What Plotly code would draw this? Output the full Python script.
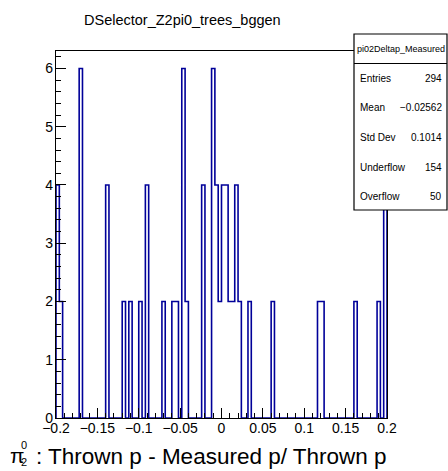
import plotly.graph_objects as go

# Histogram definition: pi02Deltap_Measured, 100 bins on [-0.2, 0.2]
x_min, x_max, n_bins = -0.2, 0.2, 100
counts = [
    4, 2, 0, 0, 0, 0, 0, 6, 0, 0,
    0, 0, 0, 0, 0, 4, 0, 0, 0, 0,
    2, 0, 2, 0, 0, 2, 0, 4, 0, 0,
    0, 0, 2, 0, 0, 2, 2, 0, 6, 2,
    0, 0, 0, 0, 4, 0, 0, 6, 4, 2,
    4, 4, 2, 2, 4, 2, 0, 0, 2, 0,
    0, 0, 0, 0, 0, 2, 0, 0, 0, 0,
    0, 0, 0, 0, 0, 0, 0, 0, 0, 2,
    2, 0, 0, 0, 0, 0, 0, 0, 0, 0,
    2, 0, 0, 0, 0, 0, 0, 2, 0, 4,
]

title_text = "DSelector_Z2pi0_trees_bggen"
stats_name = "pi02Deltap_Measured"
stats_labels = ["Entries", "Mean", "Std Dev", "Underflow", "Overflow"]
stats_values = ["294", "\u22120.02562", "0.1014", "154", "50"]

width = x_max - x_min
edges = [x_min + width * i / n_bins for i in range(n_bins + 1)]

# Step outline of the histogram (ROOT "HIST" style)
step_x = [edges[0]] + edges[:-1] + [edges[-1], edges[-1]]
step_y = [0] + counts + [counts[-1], 0]

W, H = 448, 471
L, R, T, B = 56, 61, 51, 53
pw, ph = W - L - R, H - T - B


def px_x(px):
    return (px - L) / pw


def px_y(py):
    return (H - B - py) / ph


FONT = "Liberation Sans, Arial, Helvetica, sans-serif"
LINE_COLOR = "#000099"

fig = go.Figure()
fig.add_trace(go.Scatter(
    x=step_x, y=step_y, mode="lines",
    line=dict(color=LINE_COLOR, width=1.6, shape="hv"),
    hoverinfo="skip", showlegend=False,
))

axis_common = dict(
    showgrid=False, zeroline=False, showline=True, mirror=True,
    linecolor="black", linewidth=1.2,
    ticks="inside", tickcolor="black", tickwidth=1.2, ticklen=10,
    tickfont=dict(family=FONT, size=14, color="black"),
)

fig.update_xaxes(
    range=[x_min, x_max], dtick=0.05, tick0=0,
    minor=dict(dtick=0.01, ticks="inside", ticklen=5, tickcolor="black", tickwidth=1.2),
    ticklabelstandoff=-3,
    **axis_common,
)
fig.update_yaxes(
    range=[0, 6.3], dtick=1, tick0=0,
    minor=dict(dtick=0.2, ticks="inside", ticklen=5, tickcolor="black", tickwidth=1.2),
    ticklabelstandoff=-1,
    **axis_common,
)

annotations = []
# Title
annotations.append(dict(
    text=title_text, xref="paper", yref="paper",
    x=px_x(182), y=px_y(20), xanchor="center", yanchor="middle",
    showarrow=False, font=dict(family=FONT, size=14.5, color="black"),
))

# Axis title with stacked super/subscript on pi
annotations.append(dict(
    text="\u03c0", xref="paper", yref="paper",
    x=px_x(8), y=px_y(455), xanchor="left", yanchor="middle",
    showarrow=False, font=dict(family=FONT, size=21, color="black"),
))
annotations.append(dict(
    text="0", xref="paper", yref="paper",
    x=px_x(19), y=px_y(445), xanchor="left", yanchor="middle",
    showarrow=False, font=dict(family=FONT, size=11, color="black"),
))
annotations.append(dict(
    text="2", xref="paper", yref="paper",
    x=px_x(19), y=px_y(462), xanchor="left", yanchor="middle",
    showarrow=False, font=dict(family=FONT, size=11, color="black"),
))
annotations.append(dict(
    text=": Thrown p - Measured p/ Thrown p", xref="paper", yref="paper",
    x=px_x(389), y=px_y(457), xanchor="right", yanchor="middle",
    showarrow=False, font=dict(family=FONT, size=22.5, color="black"),
))

# Stats box
box_l, box_r, box_t, box_b = 354, 447, 34, 210
shapes = [
    dict(type="rect", xref="paper", yref="paper",
         x0=px_x(box_l), x1=px_x(box_r), y0=px_y(box_b), y1=px_y(box_t),
         line=dict(color="black", width=1.2), fillcolor="white", layer="above"),
    dict(type="line", xref="paper", yref="paper",
         x0=px_x(box_l), x1=px_x(box_r), y0=px_y(63.5), y1=px_y(63.5),
         line=dict(color="black", width=1.2), layer="above"),
]
annotations.append(dict(
    text=stats_name, xref="paper", yref="paper",
    x=px_x((box_l + box_r) / 2), y=px_y(49), xanchor="center", yanchor="middle",
    showarrow=False, font=dict(family=FONT, size=9, color="black"),
))
row_y = [78.5, 108, 137.5, 167, 196.5]
for lab, val, ry in zip(stats_labels, stats_values, row_y):
    annotations.append(dict(
        text=lab, xref="paper", yref="paper",
        x=px_x(358), y=px_y(ry), xanchor="left", yanchor="middle",
        showarrow=False, font=dict(family=FONT, size=10, color="black"),
    ))
    annotations.append(dict(
        text=val, xref="paper", yref="paper",
        x=px_x(443.5), y=px_y(ry), xanchor="right", yanchor="middle",
        showarrow=False, font=dict(family=FONT, size=10, color="black"),
    ))

fig.update_layout(
    width=W, height=H,
    margin=dict(l=L, r=R, t=T, b=B),
    paper_bgcolor="white", plot_bgcolor="white",
    shapes=shapes, annotations=annotations,
    showlegend=False,
)

fig.write_html("out.html")
